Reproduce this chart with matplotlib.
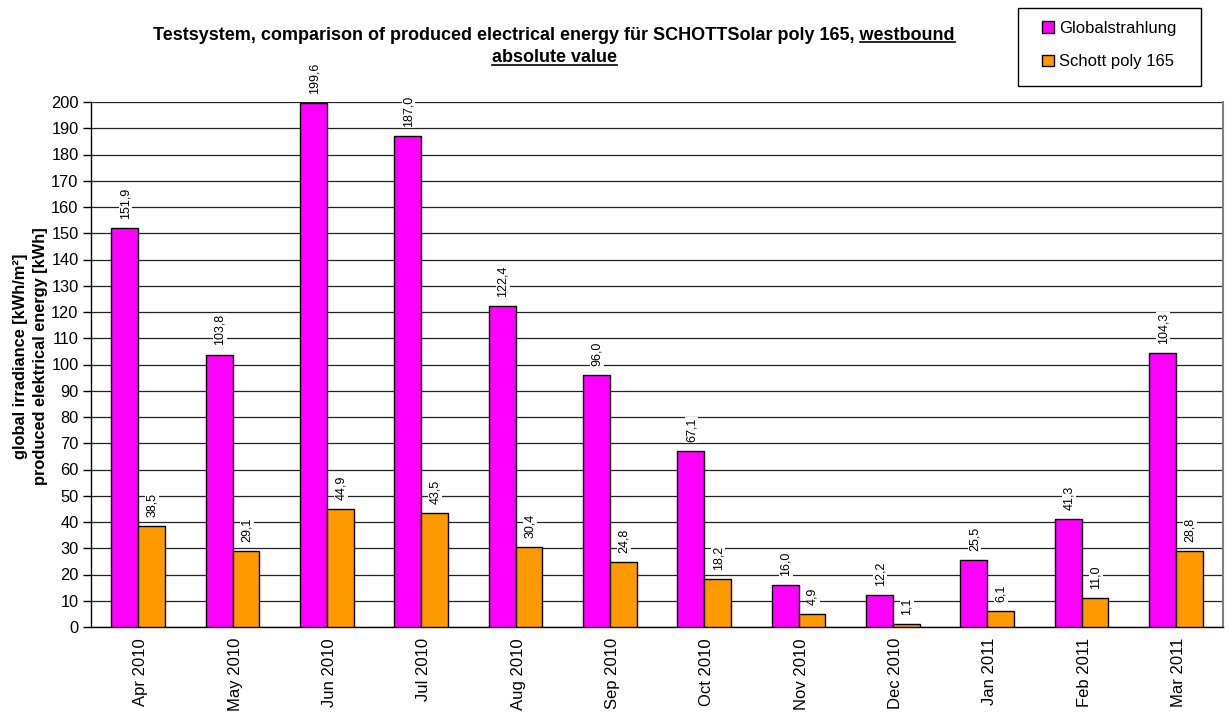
import matplotlib
matplotlib.use("Agg")
import matplotlib.pyplot as plt
from matplotlib.patches import Patch, Rectangle
from matplotlib.lines import Line2D
import numpy as np

plt.rcParams['font.family'] = ['Liberation Sans', 'DejaVu Sans']

months = ["Apr 2010", "May 2010", "Jun 2010", "Jul 2010", "Aug 2010", "Sep 2010",
          "Oct 2010", "Nov 2010", "Dec 2010", "Jan 2011", "Feb 2011", "Mar 2011"]
globalstrahlung = [151.9, 103.8, 199.6, 187.0, 122.4, 96.0, 67.1, 16.0, 12.2, 25.5, 41.3, 104.3]
schott_poly_165 = [38.5, 29.1, 44.9, 43.5, 30.4, 24.8, 18.2, 4.9, 1.1, 6.1, 11.0, 28.8]
series_names = ["Globalstrahlung", "Schott poly 165"]
series_colors = ["#FF00FF", "#FF9900"]
y_ticks = list(range(0, 201, 10))

W, H = 1231, 713
fig = plt.figure(figsize=(W / 100, H / 100), dpi=100)
ax = fig.add_axes([91 / W, 1 - 627 / H, (1223 - 91) / W, (627 - 102) / H])

x = np.arange(len(months))
bw = 0.285
for i, (vals, col) in enumerate(zip([globalstrahlung, schott_poly_165], series_colors)):
    pos = x + (i - 0.5) * bw
    ax.bar(pos, vals, width=bw, color=col, edgecolor="black", linewidth=1.0, zorder=3)
    for p, v in zip(pos, vals):
        ax.annotate(f"{v:.1f}".replace(".", ","), (p, v), xytext=(0.5, 6.5),
                    textcoords="offset points", rotation=90, ha="center", va="bottom",
                    fontsize=9, zorder=4,
                    bbox=dict(facecolor="white", edgecolor="none", pad=0.6))

ax.set_xlim(-0.5, len(months) - 0.5)
ax.set_ylim(0, 200)
ax.set_yticks(y_ticks)
ax.set_yticklabels([str(t) for t in y_ticks], fontsize=11.8)
ax.set_xticks(x + 0.03)
ax.set_xticklabels(months, rotation=90, fontsize=12)
ax.tick_params(axis="x", length=0, pad=8)
ax.tick_params(axis="y", length=6, width=1, direction="out", pad=3)
ax.yaxis.grid(True, color="#222222", linewidth=0.9, zorder=0)
ax.set_axisbelow(True)
for side in ["left", "bottom"]:
    ax.spines[side].set_color("black")
    ax.spines[side].set_linewidth(1.0)
ax.spines["right"].set_color("#808080")
ax.spines["right"].set_linewidth(1.5)
ax.spines["top"].set_visible(False)

ax.set_ylabel("global irradiance [kWh/m²]\nproduced elektrical energy [kWh]",
              fontsize=11.8, fontweight="bold", labelpad=2, linespacing=1.4)
ax.yaxis.label.set_y(0.515)

# Title with underlined parts
cx = 554 / W
line1 = "Testsystem, comparison of produced electrical energy für SCHOTTSolar poly 165, westbound"
t1 = fig.text(cx, 1 - 35 / H, line1, ha="center", va="center", fontsize=13, fontweight="bold")
t2 = fig.text(cx, 1 - 58 / H, "absolute value", ha="center", va="center", fontsize=13, fontweight="bold")
tmp = fig.text(0, 0, "westbound", fontsize=13, fontweight="bold")
fig.canvas.draw()
r = fig.canvas.get_renderer()
b1 = t1.get_window_extent(r)
b2 = t2.get_window_extent(r)
wb = tmp.get_window_extent(r)
tmp.remove()
uy1 = (b1.y0 + 1.5) / H
uy2 = (b2.y0 + 1.5) / H
fig.add_artist(Line2D([(b1.x1 - wb.width) / W, b1.x1 / W], [uy1, uy1], color="black", linewidth=1.2))
fig.add_artist(Line2D([b2.x0 / W, b2.x1 / W], [uy2, uy2], color="black", linewidth=1.2))

# Legend with a separately drawn frame
fig.add_artist(Rectangle((1018 / W, 1 - 86 / H), (1201 - 1018) / W, (86 - 8) / H,
                         transform=fig.transFigure, facecolor="white", edgecolor="black",
                         linewidth=1.0, zorder=1))
handles = [Patch(facecolor=c, edgecolor="black", linewidth=1.0) for c in series_colors]
leg = fig.legend(handles, series_names, loc="upper left",
                 bbox_to_anchor=(1042 / W, 1 - 21 / H), frameon=False,
                 fontsize=12, handlelength=0.72, handleheight=0.72, handletextpad=0.3,
                 labelspacing=1.1, borderpad=0, borderaxespad=0)
leg.set_zorder(2)

fig.savefig("out.png", dpi=100)
